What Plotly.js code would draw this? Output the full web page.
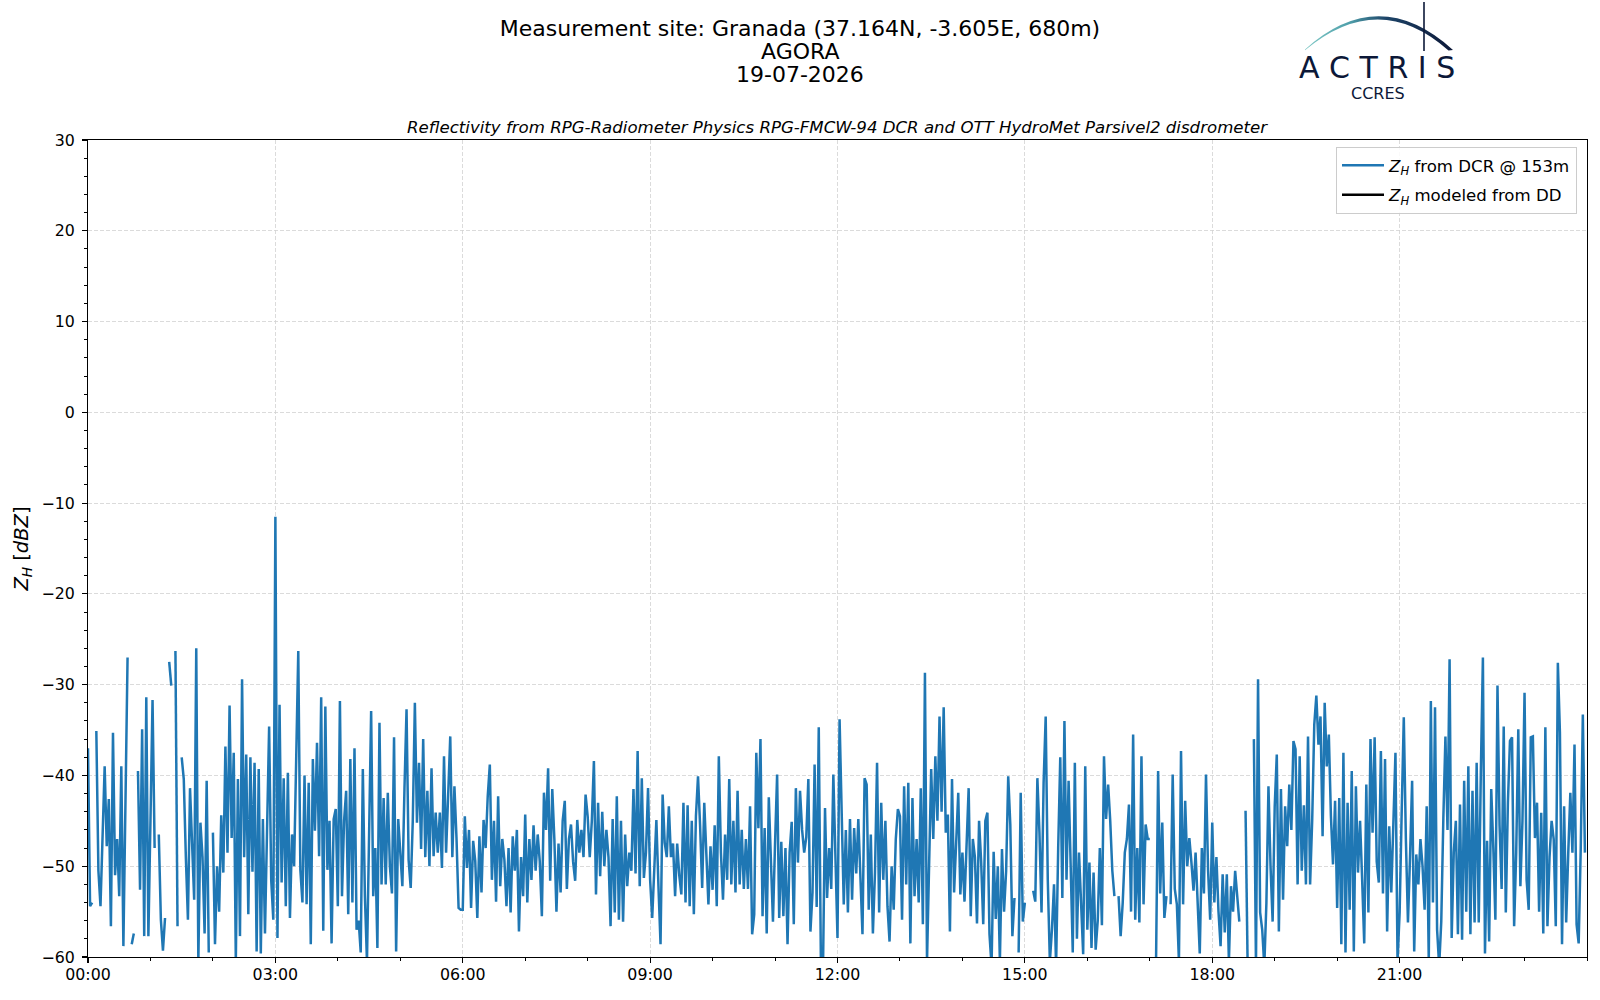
<!DOCTYPE html>
<html>
<head>
<meta charset="utf-8">
<script src="https://cdn.plot.ly/plotly-3.0.1.min.js"></script>
<style>
html, body { margin: 0; padding: 0; background: #ffffff; }
#chart { width: 1600px; height: 1000px; }
</style>
</head>
<body>
<div id="chart"></div>
<script>
// ---------------- data ----------------
const dayStart = '2026-07-19';
const sampleStepMinutes = 2;
const tickLabels = ['00:00', '03:00', '06:00', '09:00', '12:00', '15:00', '18:00', '21:00'];
const seriesNames = ['<i>Z</i><sub><i>H</i></sub> from DCR @ 153m', '<i>Z</i><sub><i>H</i></sub> modeled from DD'];

// Z_H from DCR @ 153m [dBZ], one row per hour (2-minute samples), null = no data
const zhDcr00to06 = [
  -37, -54.4, -54, null, -35.1, -50.5, -54.4, -45.2, -39, -47.8, -42.6, -56.6, -35.3, -51, -47, -53.3, -39, -58.8, -43.7, -27, null, -58.6, -57.4, null, -39.5, -52.6, -34.9, -57.7, -31.4, -57.7,
  -45, -31.7, -48, null, -46.5, -55.9, -59.3, -55.7, null, -27.5, -30.1, null, -26.3, -56.6, null, -38, -40.4, -49, -55.9, -41.4, -47.8, -53.7, -26, -60.5, -45.2, -49, -57.4, -40.6, -59.5, null,
  -46.3, -58.6, -50, -55, -44.4, -50.7, -36.8, -48.5, -32.3, -46.9, -37.5, -60.5, -40.4, -57.7, -29.4, -49, -37.7, -55.3, -38, -50.6, -38.6, -59.4, -39.3, -59.6, -44.8, -57.4, -46, -34.6, -51.5, -55.9,
  -11.5, -57.9, -32.2, -51.8, -40.3, -54.4, -39.7, -55.7, -46.5, -50, -38.2, -26.3, -50.4, -54, -40, -54.2, -40.8, -58.6, -38.2, -46.1, -36.4, -48.9, -31.4, -57.1, -32.4, -50.4, -45, -58.5, -44.8, -43.7,
  -54.4, -31.8, -53.3, -45, -41.7, -55.3, -38.2, -54, -37, -57, -56, -59.5, -39.3, -53.3, -60.5, -45, -32.9, -53.3, -48, -59, -34.2, -52, -42.5, -52, -41.9, -50, -53, -35.8, -59.4, -44.8,
  -48.9, -52.2, -41.5, -32.7, -49.3, -52.4, -45, -32, -45.2, -38.6, -48.1, -36, -49, -41.7, -50, -39.2, -48.9, -44.1, -48.5, -44.1, -50.2, -37.9, -48.5, -40.8, -35.7, -49, -41.2, -46.9, -54.6, -54.8
];
const zhDcr06to12 = [
  -54.8, -44.5, -50.2, -46, -54.6, -47.2, -49.4, -55.7, -46.7, -52.9, -44.9, -48, -42.3, -38.8, -51.5, -45, -53.9, -42.3, -52.2, -47, -49.3, -54.4, -48, -55.1, -46.7, -50.5, -46, -57.2, -49, -53.3,
  -44.3, -54, -47, -51.5, -45.5, -50.5, -46.5, -49.5, -55.5, -41.9, -46, -39.2, -51.6, -41.5, -47, -55, -47.5, -52.9, -45, -42.8, -52.5, -47, -45.4, -49.5, -51.6, -44.9, -48.5, -46, -49, -42.1,
  -44.5, -49, -45, -38.4, -53.1, -43, -51.1, -44, -50, -46, -49, -56.6, -44.8, -55.1, -42.3, -55.9, -45, -56.1, -46.5, -52.2, -48.5, -50.5, -41.5, -50.8, -37.3, -52.2, -40.3, -51.3, -48.5, -41.4,
  -51.5, -55.7, -50, -44.9, -52.2, -58.6, -42.1, -47.4, -49, -43.4, -49, -47.5, -53.3, -47.5, -51, -53.1, -43, -54, -43.3, -54.4, -45, -55.3, -44.5, -40.1, -45.5, -52.4, -43, -49.6, -54.2, -47.8,
  -52.6, -45.5, -54.4, -37.9, -48.5, -53.7, -46.5, -51.5, -40.4, -52, -45, -52.9, -41.7, -52, -46, -52.5, -47, -52.5, -43.4, -57.5, -55.3, -37.5, -45.8, -36, -55.5, -45.8, -57.4, -42.4, -49.5, -56.1,
  -47.5, -39.9, -55.7, -47.3, -55.5, -48, -58.6, -48.5, -45.1, -56.4, -41.4, -49.6, -41.7, -46, -48.5, -46.8, -40.4, -57.2, -52.9, -38.8, -54.5, -34.7, -60, -62, -43.6, -53.5, -48, -52.5, -39.9, -50
];
const zhDcr12to18 = [
  -57.9, -33.8, -42.8, -54.2, -46, -55.1, -44.8, -53.7, -45.8, -50.8, -44.8, -52.1, -57.5, -40.3, -41, -54.8, -46.5, -57.4, -50.7, -38.6, -55.1, -43, -51.5, -45, -54.4, -58.3, -50, -54.8, -47, -43.7,
  -44.5, -55.9, -41.2, -52, -40.8, -58.5, -42.5, -53.3, -47, -54, -41.4, -56.4, -28.7, -60.5, -49.5, -39.3, -47, -37.9, -45, -33.5, -44, -32.5, -46.3, -44.3, -57.2, -40.4, -52.9, -47, -41.9, -53.1,
  -48.5, -53.9, -47, -41.4, -55.5, -47, -49, -56.3, -45, -49.5, -56.4, -45, -44.1, -57.5, -61, -48.4, -55.8, -50, -60.5, -48.1, -55, -50.5, -40.1, -45.4, -57.7, -53.5, null, -59.5, -41.9, -56.1,
  -54, null, null, null, -52.7, -53.9, -40.3, -46.3, -55.1, -40.8, -33.5, -51.5, -60.5, -57, -52, -61, -48, -38, -53.5, -34, -51.5, -40.6, -50, -59.5, -38.6, -58, -48.5, -55.1, -59.7, -39,
  -57, -49.6, -59, -50.7, -59.2, -56, -48, -56.5, -37.9, -44.8, -41, -45, -50.5, -53.3, null, -53.3, -57.7, -54, -48.5, -47, -43.2, -55, -35.5, -55.9, -48, -56.2, -37.9, -54.2, -45.4, -47,
  -47, null, null, -60.5, -39.5, -53, -45.2, -55.7, -53.3, null, -54.2, -39.9, -52.5, -54.2, -60.5, -37.3, -54.2, -42.8, -50, -46.9, -49.6, -52.7, -48.5, -55.1, -59.6, -48, -53, -39.9, -50.5, -55.9
];
const zhDcr18to24 = [
  -45.2, -54, -49, -55, -58.8, -50.9, -57.3, -50.9, -60.5, -52.2, -55, -50.5, -53.5, -56.1, null, null, -43.9, -61, null, null, -36, -61, -29.4, -55.1, -57, -61, -54.1, -41.2, -50, -56.1,
  -43.4, -37.7, -57.2, -41.5, -53.7, -43.4, -47.8, -41, -46, -36.2, -37.1, -52, -37.9, -50.5, -43.3, -52, -35.7, -52, -45, -34.4, -31.2, -36.6, -33.5, -46.7, -32, -39, -35.5, -44.5, -49.8, -42.8,
  -54.6, -42.5, -58.6, -37.5, -59.5, -43, -54.8, -39.5, -59.4, -41.2, -50.7, -45, -51.5, -58.5, -41, -55.1, -36, -46.3, -35.8, -49.5, -51.8, -37.3, -53, -38.2, -57.2, -45.6, -52.9, -45.2, -37.5, -60.5,
  -55.1, -43.9, -33.6, -47, -56.2, -49, -40.6, -59.4, -48.7, -52, -47, -50, -54.8, -43.4, -60.5, -31.8, -54, -32.5, -57, -61, -56.1, -44.7, -35.7, -46, -27.2, -57.9, -48.5, -45, -57.5, -43.2,
  -58.1, -40.6, -55, -39, -57.5, -41.7, -56.2, -38.6, -56.2, -39.7, -27, -59.6, -47.2, -58.3, -41.5, -48, -55.9, -30.1, -45.5, -52.5, -34.6, -55.1, -43, -36.2, -35.8, -56.6, -48.5, -34.9, -52.2, -45,
  -30.9, -51.5, -54.8, -35.8, -35.7, -46.9, -43, -55, -44.1, -57.4, -34.7, -56.6, -49, -45, -47, -56.6, -27.6, -35.3, -58.6, -43.4, -56.2, -48.5, -41.9, -48.5, -36.6, -56.4, -58.5, -48, -33.3, -48.5
];
// Z_H modeled from disdrometer: no valid data for this day
const zhModeledTimes = [dayStart + ' 00:00:00'];
const zhModeled = [null];

// ---------------- build ----------------
const zhDcr = zhDcr00to06.concat(zhDcr06to12, zhDcr12to18, zhDcr18to24);
function pad(n) { return (n < 10 ? '0' : '') + n; }
const zhDcrTimes = zhDcr.map(function (_, i) {
  const m = i * sampleStepMinutes;
  return dayStart + ' ' + pad(Math.floor(m / 60)) + ':' + pad(m % 60) + ':00';
});
const tickVals = tickLabels.map(function (t) { return dayStart + ' ' + t + ':00'; });

// plot-box geometry in pixels (for placing decorations)
const PL = 88, PR = 1587, PT = 140, PB = 957;
function px(x) { return (x - PL) / (PR - PL); }
function py(y) { return (PB - y) / (PB - PT); }

const FONT = 'DejaVu Sans, Verdana, sans-serif';

const traces = [
  {
    type: 'scatter', mode: 'lines', name: seriesNames[0], legendgroup: 'dcr',
    x: zhDcrTimes, y: zhDcr,
    line: { color: '#1f77b4', width: 2.5 },
    connectgaps: false, hoverinfo: 'skip'
  },
  {
    type: 'scatter', mode: 'lines', name: seriesNames[1], legendgroup: 'dd',
    x: zhModeledTimes, y: zhModeled,
    line: { color: '#000000', width: 2.5 },
    hoverinfo: 'skip', showlegend: true
  }
];

const logoSvg =
  '<svg xmlns="http://www.w3.org/2000/svg" width="180" height="60" viewBox="0 0 180 60">' +
  '<defs><linearGradient id="g" x1="0" y1="0" x2="1" y2="0">' +
  '<stop offset="0" stop-color="#7fc9c6"/><stop offset="0.3" stop-color="#4f9faa"/>' +
  '<stop offset="0.55" stop-color="#1d4468"/><stop offset="1" stop-color="#0c1838"/>' +
  '</linearGradient></defs>' +
  '<path d="M11,49.5 Q85,-17 159,50 L154.5,50.5 Q85,-11.5 11,50.2 Z" fill="url(#g)"/>' +
  '<line x1="130" y1="2" x2="130" y2="51" stroke="#0c1838" stroke-width="1.6"/>' +
  '</svg>';

const axisCommon = {
  showline: true, linecolor: '#000000', linewidth: 1.1, mirror: true,
  ticks: 'outside', ticklen: 5, tickwidth: 1.1, tickcolor: '#000000',
  showgrid: true, gridcolor: '#d2d2d2', gridwidth: 0.8, griddash: '4px,2px',
  zeroline: false,
  tickfont: { family: FONT, size: 15.8, color: '#000000' }
};

const layout = {
  width: 1600, height: 1000,
  paper_bgcolor: '#ffffff', plot_bgcolor: '#ffffff',
  margin: { l: PL, r: 1600 - PR, t: PT, b: 1000 - PB, pad: 0 },
  showlegend: true,
  hovermode: false,
  title: {
    text: 'Measurement site: Granada (37.164N, -3.605E, 680m)',
    font: { family: FONT, size: 22, color: '#000000' },
    x: 0.5, xref: 'container', xanchor: 'center',
    y: 1 - 28.5 / 1000, yref: 'container', yanchor: 'middle'
  },
  xaxis: Object.assign({}, axisCommon, {
    type: 'date',
    range: [dayStart + ' 00:00:00', '2026-07-20 00:00:00'],
    tickmode: 'array', tickvals: tickVals, ticktext: tickLabels,
    ticklabelstandoff: -2,
    minor: { dtick: 3600000, tick0: dayStart + ' 00:00:00', ticks: 'outside', ticklen: 3, tickwidth: 1, tickcolor: '#000000', showgrid: false }
  }),
  yaxis: Object.assign({}, axisCommon, {
    range: [-60, 30], dtick: 10, tick0: 0,
    ticklabelstandoff: 4,
    minor: { dtick: 2, ticks: 'outside', ticklen: 3, tickwidth: 1, tickcolor: '#000000', showgrid: false },
    title: {
      text: '<i>Z</i><sub><i>H</i></sub> [<i>dBZ</i>]',
      font: { family: FONT, size: 19.5, color: '#000000' },
      standoff: 7
    }
  }),
  legend: {
    x: px(1577), xanchor: 'right', y: py(147), yanchor: 'top',
    bgcolor: 'rgba(255,255,255,0.85)', bordercolor: '#cccccc', borderwidth: 1,
    font: { family: FONT, size: 16.6, color: '#000000' },
    itemwidth: 42,
    tracegroupgap: 5
  },
  annotations: [
    { text: 'AGORA', xref: 'paper', yref: 'paper', x: px(800), y: py(51.5), xanchor: 'center', yanchor: 'middle', showarrow: false, font: { family: FONT, size: 22, color: '#000000' } },
    { text: '19-07-2026', xref: 'paper', yref: 'paper', x: px(800), y: py(74.5), xanchor: 'center', yanchor: 'middle', showarrow: false, font: { family: FONT, size: 22, color: '#000000' } },
    { text: '<i>Reflectivity from RPG-Radiometer Physics RPG-FMCW-94 DCR and OTT HydroMet Parsivel2 disdrometer</i>', xref: 'paper', yref: 'paper', x: 0.5, y: py(127), xanchor: 'center', yanchor: 'middle', showarrow: false, font: { family: FONT, size: 16.6, color: '#000000' } },
    { text: 'A C T R I S', xref: 'paper', yref: 'paper', x: px(1377), y: py(67.5), xanchor: 'center', yanchor: 'middle', showarrow: false, font: { family: FONT, size: 30, color: '#0c1838' } },
    { text: 'CCRES', xref: 'paper', yref: 'paper', x: px(1378), y: py(93), xanchor: 'center', yanchor: 'middle', showarrow: false, font: { family: FONT, size: 16, color: '#0c1838' } }
  ],
  images: [
    {
      source: 'data:image/svg+xml;charset=utf-8,' + encodeURIComponent(logoSvg),
      xref: 'paper', yref: 'paper',
      x: px(1294), y: py(0), sizex: 180 / (PR - PL), sizey: 60 / (PB - PT),
      xanchor: 'left', yanchor: 'top', sizing: 'stretch', layer: 'above'
    }
  ]
};

Plotly.newPlot('chart', traces, layout, { displayModeBar: false, staticPlot: true });
</script>
</body>
</html>
